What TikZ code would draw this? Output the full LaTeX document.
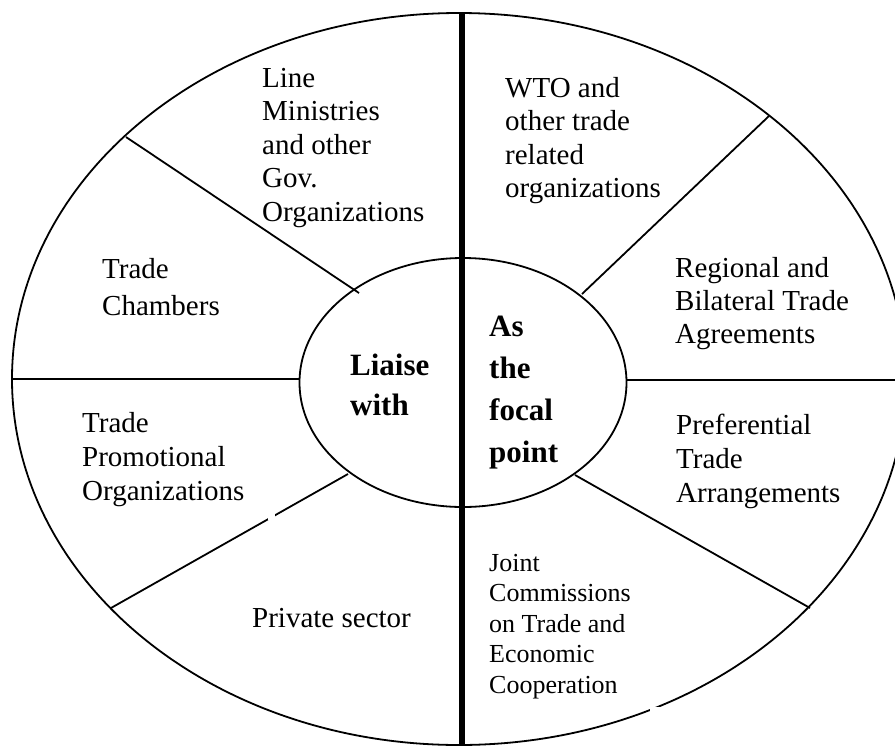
\documentclass[tikz,border=0pt]{standalone}
\usepackage{fontspec}
\setmainfont{Liberation Serif}
\usetikzlibrary{shapes.geometric}
\begin{document}
\begin{tikzpicture}[x=1pt,y=-1pt,
  thin line/.style={line width=1.8pt},
  lbl/.style={font=\fontsize{29}{33.5}\selectfont, align=left, inner sep=0pt, anchor=base west},
  small lbl/.style={font=\fontsize{26}{30.5}\selectfont, align=left, inner sep=0pt, anchor=base west},
  core lbl/.style={font=\fontsize{31}{40}\selectfont\bfseries, align=left, inner sep=0pt, anchor=base west}]
\useasboundingbox (0,0) rectangle (895,745);
\clip (0,0) rectangle (895,745);
\fill[white] (0,0) rectangle (895,745);
% outer ring
\draw[thin line] (459,379) ellipse [x radius=447pt, y radius=366pt];
% inner core
\node (core) [draw, thin line, ellipse, minimum width=327pt, minimum height=249pt, inner sep=0pt] at (463,382.5) {};
% spoke end points
\coordinate (o1) at (126,137);  \coordinate (i1) at (359,293);
\coordinate (o2) at (12,379);   \coordinate (i2) at (300,379);
\coordinate (o3) at (111,608);  \coordinate (i3) at (348,474);
\coordinate (o4) at (769,116);  \coordinate (i4) at (582,294);
\coordinate (o5) at (895,380);  \coordinate (i5) at (627,380);
\coordinate (o6) at (810,608);  \coordinate (i6) at (575,475);
\draw[thin line] (o1) -- (i1);
\draw[thin line] (o2) -- (i2);
\draw[thin line] (o3) -- (i3);
\draw[thin line] (o4) -- (i4);
\draw[thin line] (o5) -- (i5);
\draw[thin line] (o6) -- (i6);
% small gaps seen in the reference
\fill[white] (268,513) rectangle (275,520);
\fill[white] (650,707) rectangle (661,716);
% thick divider
\coordinate (vtop) at (462,13);
\coordinate (vbot) at (462,745);
\draw[line width=6.7pt] (vtop) -- (vbot);
% labels (anchored at the baseline of the last line)
\node (ministries) [lbl] at (262,221) {Line\\Ministries\\and other\\Gov.\\Organizations};
\node (chambers) [lbl, font=\fontsize{29}{37}\selectfont] at (102,315) {Trade\\Chambers};
\node (promo) [lbl, font=\fontsize{29}{34}\selectfont] at (82,500) {Trade\\Promotional\\Organizations};
\node (private) [lbl] at (252,627) {Private sector};
\node (wto) [lbl] at (505,197.5) {WTO and\\other trade\\related\\organizations};
\node (regional) [lbl, font=\fontsize{29}{33}\selectfont] at (675,343.5) {Regional and\\Bilateral Trade\\Agreements};
\node (pref) [lbl, font=\fontsize{29}{34}\selectfont] at (676,502.5) {Preferential\\Trade\\Arrangements};
\node (joint) [small lbl] at (489,693) {Joint\\Commissions\\on Trade and\\Economic\\Cooperation};
\node (liaise) [core lbl] at (350,415) {Liaise\\with};
\node (focal) [core lbl, font=\fontsize{31}{42}\selectfont\bfseries] at (489,462) {As\\the\\focal\\point};
\end{tikzpicture}
\end{document}
